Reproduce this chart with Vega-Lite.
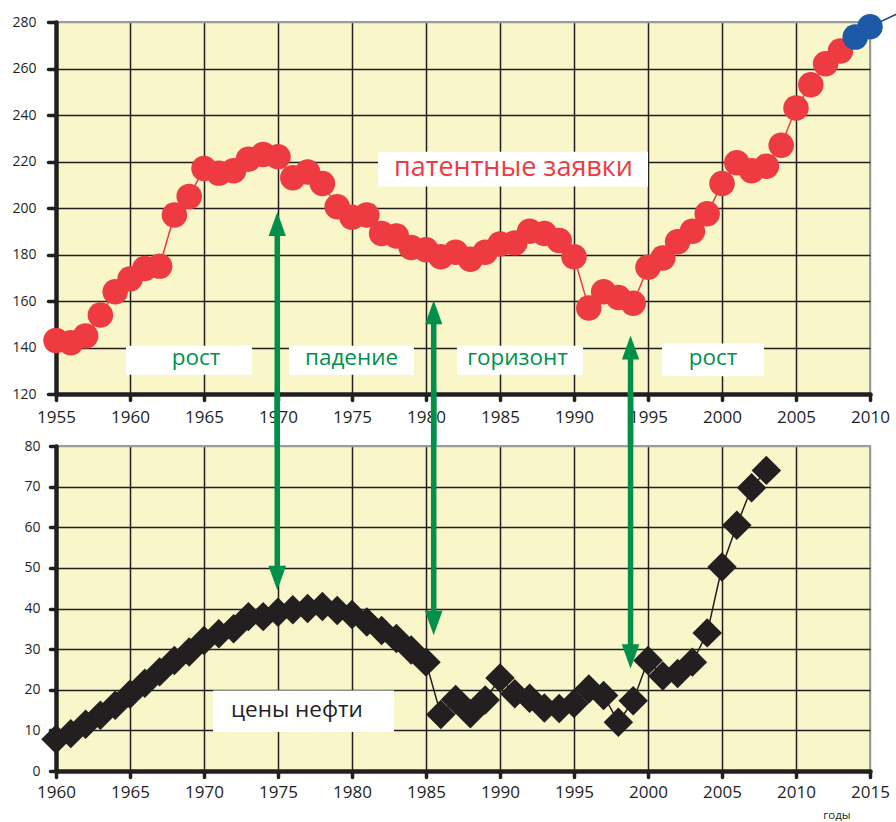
{
  "$schema": "https://vega.github.io/schema/vega-lite/v6.json",
  "background": "white",
  "padding": {"left": 10, "top": 8, "right": 0, "bottom": 0},
  "bounds": "flush",
  "spacing": 52,
  "datasets": {
    "patents": [
      {"year": 1955, "applications": 143, "period": "history"},
      {"year": 1956, "applications": 142, "period": "history"},
      {"year": 1957, "applications": 145, "period": "history"},
      {"year": 1958, "applications": 154, "period": "history"},
      {"year": 1959, "applications": 164, "period": "history"},
      {"year": 1960, "applications": 169.5, "period": "history"},
      {"year": 1961, "applications": 174, "period": "history"},
      {"year": 1962, "applications": 175, "period": "history"},
      {"year": 1963, "applications": 197, "period": "history"},
      {"year": 1964, "applications": 205, "period": "history"},
      {"year": 1965, "applications": 217, "period": "history"},
      {"year": 1966, "applications": 215, "period": "history"},
      {"year": 1967, "applications": 216, "period": "history"},
      {"year": 1968, "applications": 221, "period": "history"},
      {"year": 1969, "applications": 223, "period": "history"},
      {"year": 1970, "applications": 222, "period": "history"},
      {"year": 1971, "applications": 213, "period": "history"},
      {"year": 1972, "applications": 215.5, "period": "history"},
      {"year": 1973, "applications": 210.5, "period": "history"},
      {"year": 1974, "applications": 200.5, "period": "history"},
      {"year": 1975, "applications": 196, "period": "history"},
      {"year": 1976, "applications": 197, "period": "history"},
      {"year": 1977, "applications": 189, "period": "history"},
      {"year": 1978, "applications": 188, "period": "history"},
      {"year": 1979, "applications": 183, "period": "history"},
      {"year": 1980, "applications": 182, "period": "history"},
      {"year": 1981, "applications": 179, "period": "history"},
      {"year": 1982, "applications": 181, "period": "history"},
      {"year": 1983, "applications": 178, "period": "history"},
      {"year": 1984, "applications": 181, "period": "history"},
      {"year": 1985, "applications": 184.5, "period": "history"},
      {"year": 1986, "applications": 185, "period": "history"},
      {"year": 1987, "applications": 190, "period": "history"},
      {"year": 1988, "applications": 189, "period": "history"},
      {"year": 1989, "applications": 186, "period": "history"},
      {"year": 1990, "applications": 179, "period": "history"},
      {"year": 1991, "applications": 157, "period": "history"},
      {"year": 1992, "applications": 164, "period": "history"},
      {"year": 1993, "applications": 161.5, "period": "history"},
      {"year": 1994, "applications": 159, "period": "history"},
      {"year": 1995, "applications": 174.5, "period": "history"},
      {"year": 1996, "applications": 178.5, "period": "history"},
      {"year": 1997, "applications": 185.5, "period": "history"},
      {"year": 1998, "applications": 190, "period": "history"},
      {"year": 1999, "applications": 197.5, "period": "history"},
      {"year": 2000, "applications": 210.5, "period": "history"},
      {"year": 2001, "applications": 219.5, "period": "history"},
      {"year": 2002, "applications": 216, "period": "history"},
      {"year": 2003, "applications": 218, "period": "history"},
      {"year": 2004, "applications": 227, "period": "history"},
      {"year": 2005, "applications": 243, "period": "history"},
      {"year": 2006, "applications": 253, "period": "history"},
      {"year": 2007, "applications": 262, "period": "history"},
      {"year": 2008, "applications": 267.5, "period": "history"},
      {"year": 2009, "applications": 273.5, "period": "recent"},
      {"year": 2010, "applications": 278, "period": "recent"}
    ],
    "patentTrend": [
      {"year": 2009, "applications": 273.5},
      {"year": 2010, "applications": 278},
      {"year": 2012, "applications": 284}
    ],
    "oil": [
      {"year": 1960, "price": 7.8},
      {"year": 1961, "price": 9.2},
      {"year": 1962, "price": 11.5},
      {"year": 1963, "price": 13.7},
      {"year": 1964, "price": 16.2},
      {"year": 1965, "price": 18.9},
      {"year": 1966, "price": 21.6},
      {"year": 1967, "price": 24.4},
      {"year": 1968, "price": 27.2},
      {"year": 1969, "price": 29.3},
      {"year": 1970, "price": 32.1},
      {"year": 1971, "price": 33.8},
      {"year": 1972, "price": 35},
      {"year": 1973, "price": 38},
      {"year": 1974, "price": 38},
      {"year": 1975, "price": 39.1},
      {"year": 1976, "price": 39.7},
      {"year": 1977, "price": 40},
      {"year": 1978, "price": 40.5},
      {"year": 1979, "price": 39.5},
      {"year": 1980, "price": 38.5},
      {"year": 1981, "price": 36.7},
      {"year": 1982, "price": 34.6},
      {"year": 1983, "price": 32.6},
      {"year": 1984, "price": 29.8},
      {"year": 1985, "price": 26.8},
      {"year": 1986, "price": 13.9},
      {"year": 1987, "price": 17.6},
      {"year": 1988, "price": 14.1},
      {"year": 1989, "price": 17.5},
      {"year": 1990, "price": 22.9},
      {"year": 1991, "price": 19},
      {"year": 1992, "price": 17.9},
      {"year": 1993, "price": 15.5},
      {"year": 1994, "price": 15.4},
      {"year": 1995, "price": 16.6},
      {"year": 1996, "price": 20.2},
      {"year": 1997, "price": 18.6},
      {"year": 1998, "price": 12},
      {"year": 1999, "price": 17.3},
      {"year": 2000, "price": 27.2},
      {"year": 2001, "price": 23.4},
      {"year": 2002, "price": 24},
      {"year": 2003, "price": 26.8},
      {"year": 2004, "price": 34},
      {"year": 2005, "price": 50.2},
      {"year": 2006, "price": 60.5},
      {"year": 2007, "price": 69.7},
      {"year": 2008, "price": 74}
    ],
    "phases": [
      {"label": "рост", "from": 1959.73, "to": 1968.24, "low": 128.3, "high": 140.8, "center": 1964.46, "mid": 135.5},
      {"label": "падение", "from": 1970.74, "to": 1979.19, "low": 128.3, "high": 140.8, "center": 1974.97, "mid": 135.5},
      {"label": "горизонт", "from": 1982.09, "to": 1990.61, "low": 128.3, "high": 140.8, "center": 1986.18, "mid": 135.5},
      {"label": "рост", "from": 1995.95, "to": 2002.84, "low": 127.6, "high": 141.7, "center": 1999.39, "mid": 135.5}
    ],
    "arrowsUp": [
      {"year": 1969.95, "tip": 198.3, "base": 194},
      {"year": 1980.52, "tip": 160.3, "base": 156},
      {"year": 1993.82, "tip": 145.2, "base": 141}
    ],
    "arrowsDown": [
      {"year": 1974.95, "tip": 44.5, "base": 47},
      {"year": 1985.52, "tip": 33.4, "base": 35.9},
      {"year": 1998.82, "tip": 25.2, "base": 27.7}
    ]
  },
  "config": {
    "font": "Open Sans",
    "view": {"fill": "#f9f6c9", "stroke": "#9b9b9b", "strokeWidth": 2},
    "axis": {
      "title": null,
      "domainColor": "#231f20",
      "domainWidth": 4.5,
      "domainCap": "round",
      "tickColor": "#231f20",
      "tickWidth": 3.5,
      "tickCap": "round",
      "gridWidth": 1.5,
      "gridOpacity": 1,
      "labelColor": "#231f20",
      "labelFont": "Open Sans",
      "labelFlush": false,
      "labelOverlap": false
    }
  },
  "vconcat": [
    {
      "width": 814,
      "height": 372,
      "layer": [
        {
          "data": {"name": "patents"},
          "mark": {"type": "line", "color": "#ed3b41", "strokeWidth": 1.5},
          "encoding": {
            "x": {
              "field": "year", "type": "quantitative",
              "scale": {"domain": [1955, 2010], "nice": false, "zero": false},
              "axis": {
                "values": [1955, 1960, 1965, 1970, 1975, 1980, 1985, 1990, 1995, 2000, 2005, 2010],
                "format": "d", "labelFontSize": 17, "tickSize": 6, "labelPadding": 9,
                "gridColor": {"condition": {"test": "datum.value == 2010", "value": "#9b9b9b"}, "value": "#231f20"}
              }
            },
            "y": {
              "field": "applications", "type": "quantitative",
              "scale": {"domain": [120, 280], "nice": false, "zero": false},
              "axis": {
                "values": [120, 140, 160, 180, 200, 220, 240, 260, 280],
                "labelFontSize": 14, "tickSize": 8, "labelPadding": 12,
                "gridColor": {"condition": {"test": "datum.value == 280", "value": "#9b9b9b"}, "value": "#231f20"}
              }
            }
          }
        },
        {
          "data": {"name": "patentTrend"},
          "mark": {"type": "line", "color": "#1f3c7e", "strokeWidth": 1.5},
          "encoding": {
            "x": {"field": "year", "type": "quantitative"},
            "y": {"field": "applications", "type": "quantitative"}
          }
        },
        {
          "data": {"name": "patents"},
          "mark": {"type": "circle", "size": 650, "opacity": 1},
          "encoding": {
            "x": {"field": "year", "type": "quantitative"},
            "y": {"field": "applications", "type": "quantitative"},
            "color": {
              "field": "period", "type": "nominal",
              "scale": {"domain": ["history", "recent"], "range": ["#ed3b41", "#1c5aa8"]},
              "legend": null
            }
          }
        },
        {
          "data": {"name": "phases"},
          "mark": {"type": "rect", "color": "white", "opacity": 1},
          "encoding": {
            "x": {"field": "from", "type": "quantitative"},
            "x2": {"field": "to"},
            "y": {"field": "low", "type": "quantitative"},
            "y2": {"field": "high"}
          }
        },
        {
          "data": {"name": "phases"},
          "mark": {"type": "text", "color": "#00904a", "fontSize": 22.5, "align": "center", "baseline": "middle"},
          "encoding": {
            "x": {"field": "center", "type": "quantitative"},
            "y": {"field": "mid", "type": "quantitative"},
            "text": {"field": "label"}
          }
        },
        {
          "data": {"values": [{"label": "патентные заявки"}]},
          "mark": {"type": "rect", "color": "white", "opacity": 1},
          "encoding": {
            "x": {"datum": 1976.76, "type": "quantitative"},
            "x2": {"datum": 1995.0},
            "y": {"datum": 209.2, "type": "quantitative"},
            "y2": {"datum": 224.2}
          }
        },
        {
          "data": {"values": [{"label": "патентные заявки"}]},
          "mark": {"type": "text", "color": "#ed3b41", "fontSize": 27, "align": "center", "baseline": "middle"},
          "encoding": {
            "x": {"datum": 1985.91, "type": "quantitative"},
            "y": {"datum": 217, "type": "quantitative"},
            "text": {"field": "label"}
          }
        },
        {
          "data": {"name": "arrowsUp"},
          "mark": {"type": "rule", "color": "#00904a", "strokeWidth": 5.5},
          "encoding": {
            "x": {"field": "year", "type": "quantitative"},
            "y": {"field": "base", "type": "quantitative"},
            "y2": {"datum": 97}
          }
        },
        {
          "data": {"name": "arrowsUp"},
          "mark": {"type": "point", "shape": "M0,0 L0.72,2 L-0.72,2 Z", "filled": true, "color": "#00904a", "size": 576, "opacity": 1, "strokeWidth": 0},
          "encoding": {
            "x": {"field": "year", "type": "quantitative"},
            "y": {"field": "tip", "type": "quantitative"}
          }
        }
      ]
    },
    {
      "width": 814,
      "height": 325,
      "layer": [
        {
          "data": {"name": "oil"},
          "mark": {"type": "line", "color": "#231f20", "strokeWidth": 1.5},
          "encoding": {
            "x": {
              "field": "year", "type": "quantitative",
              "scale": {"domain": [1960, 2015], "nice": false, "zero": false},
              "axis": {
                "values": [1960, 1965, 1970, 1975, 1980, 1985, 1990, 1995, 2000, 2005, 2010, 2015],
                "format": "d", "labelFontSize": 17, "tickSize": 6, "labelPadding": 7,
                "gridColor": {"condition": {"test": "datum.value == 2015", "value": "#9b9b9b"}, "value": "#231f20"}
              }
            },
            "y": {
              "field": "price", "type": "quantitative",
              "scale": {"domain": [0, 80], "nice": false},
              "axis": {
                "values": [0, 10, 20, 30, 40, 50, 60, 70, 80],
                "labelFontSize": 14, "tickSize": 6, "labelPadding": 10,
                "gridColor": {"condition": {"test": "datum.value == 80", "value": "#9b9b9b"}, "value": "#231f20"}
              }
            }
          }
        },
        {
          "data": {"name": "oil"},
          "mark": {"type": "point", "shape": "diamond", "filled": true, "size": 870, "color": "#231f20", "opacity": 1},
          "encoding": {
            "x": {"field": "year", "type": "quantitative"},
            "y": {"field": "price", "type": "quantitative"}
          }
        },
        {
          "data": {"values": [{"label": "цены нефти"}]},
          "mark": {"type": "rect", "color": "white", "opacity": 1},
          "encoding": {
            "x": {"datum": 1970.61, "type": "quantitative"},
            "x2": {"datum": 1982.84},
            "y": {"datum": 9.6, "type": "quantitative"},
            "y2": {"datum": 19.8}
          }
        },
        {
          "data": {"values": [{"label": "цены нефти"}]},
          "mark": {"type": "text", "color": "#231f20", "fontSize": 22.5, "align": "center", "baseline": "middle"},
          "encoding": {
            "x": {"datum": 1976.28, "type": "quantitative"},
            "y": {"datum": 14.9, "type": "quantitative"},
            "text": {"field": "label"}
          }
        },
        {
          "data": {"values": [{"label": "годы"}]},
          "mark": {"type": "text", "color": "#231f20", "fontSize": 11.5, "align": "center", "baseline": "middle"},
          "encoding": {
            "x": {"datum": 2012.77, "type": "quantitative"},
            "y": {"datum": -11, "type": "quantitative"},
            "text": {"field": "label"}
          }
        },
        {
          "data": {"name": "arrowsDown"},
          "mark": {"type": "rule", "color": "#00904a", "strokeWidth": 5.5},
          "encoding": {
            "x": {"field": "year", "type": "quantitative"},
            "y": {"field": "base", "type": "quantitative"},
            "y2": {"datum": 93.5}
          }
        },
        {
          "data": {"name": "arrowsDown"},
          "mark": {"type": "point", "shape": "M0,0 L0.72,-2 L-0.72,-2 Z", "filled": true, "color": "#00904a", "size": 600, "opacity": 1, "strokeWidth": 0},
          "encoding": {
            "x": {"field": "year", "type": "quantitative"},
            "y": {"field": "tip", "type": "quantitative"}
          }
        }
      ]
    }
  ]
}
